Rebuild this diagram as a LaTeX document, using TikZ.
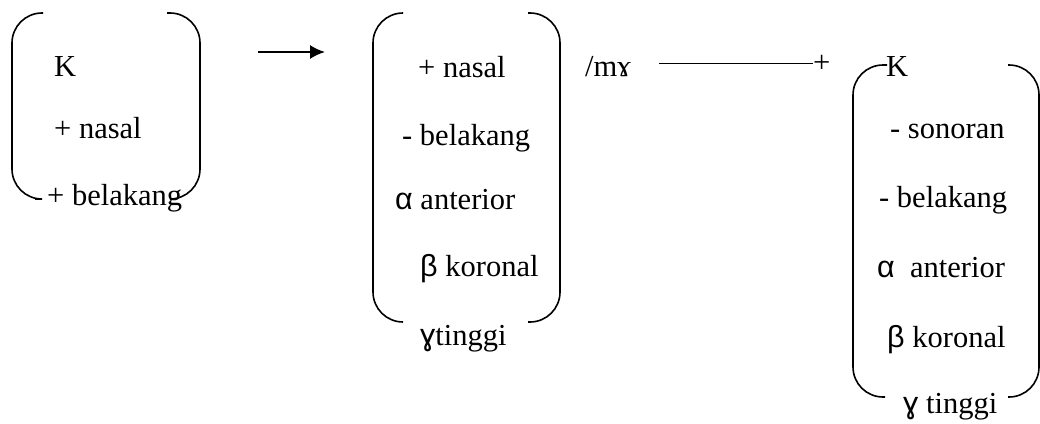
\documentclass[tikz,border=0pt]{standalone}
\usepackage{fontspec}
\setmainfont{Liberation Serif}
\newfontfamily\grk{Liberation Sans}
\usetikzlibrary{arrows.meta}
\begin{document}
\begin{tikzpicture}[x=1pt,y=-1pt,
  txt/.style={anchor=base west,inner sep=0pt,font=\fontsize{30.5}{36}\selectfont},
  paren/.style={line width=1.6pt,rounded corners=30pt}]
\useasboundingbox (0,0) rectangle (1040,423);
% bracket 1
\draw[paren] (43,13) -- (12,13) -- (12,199) -- (35,199);
\draw[paren] (167,13) -- (200,13) -- (200,199) -- (173,199);
\node[txt] (a1) at (54,76) {K};
\node[txt] (a2) at (54,138) {+ nasal};
\node[txt] (a3) at (47,205) {+ belakang};
% arrow
\coordinate (arrS) at (258,52);
\coordinate (arrE) at (325,52);
\draw[line width=1.8pt,-{Latex[length=15pt,width=14pt]}] (arrS) -- (arrE);
% bracket 2
\draw[paren] (402,13) -- (373,13) -- (373,322) -- (403,322);
\draw[paren] (528,13) -- (560,13) -- (560,322) -- (528,322);
\node[txt] (b1) at (418,77) {+ nasal};
\node[txt] (b2) at (402,145) {- belakang};
\node[txt] (b3) at (395,209) {{\grk α} anterior};
\node[txt] (b4) at (420,276) {{\grk β} koronal};
\node[txt] (b5) at (420,345) {{\grk ɣ}tinggi};
\node[txt] (env) at (585,76) {/mɤ};
% line
\coordinate (lnS) at (659,63.5);
\node[txt] (plus) at (813,72) {+};
\draw[line width=1.5pt] (lnS) -- (plus.west |- lnS);
% bracket 3
\draw[paren] (887,65) -- (853,65) -- (853,397) -- (885,397);
\draw[paren] (1008,65) -- (1039,65) -- (1039,397) -- (1008,397);
\node[txt] (c1) at (886,76) {K};
\node[txt] (c2) at (890,138) {- sonoran};
\node[txt] (c3) at (879,207) {- belakang};
\node[txt] (c4) at (877,277) {{\grk α}\ \ anterior};
\node[txt] (c5) at (887,347) {{\grk β} koronal};
\node[txt] (c6) at (903,413) {{\grk ɣ} tinggi};
\end{tikzpicture}
\end{document}
